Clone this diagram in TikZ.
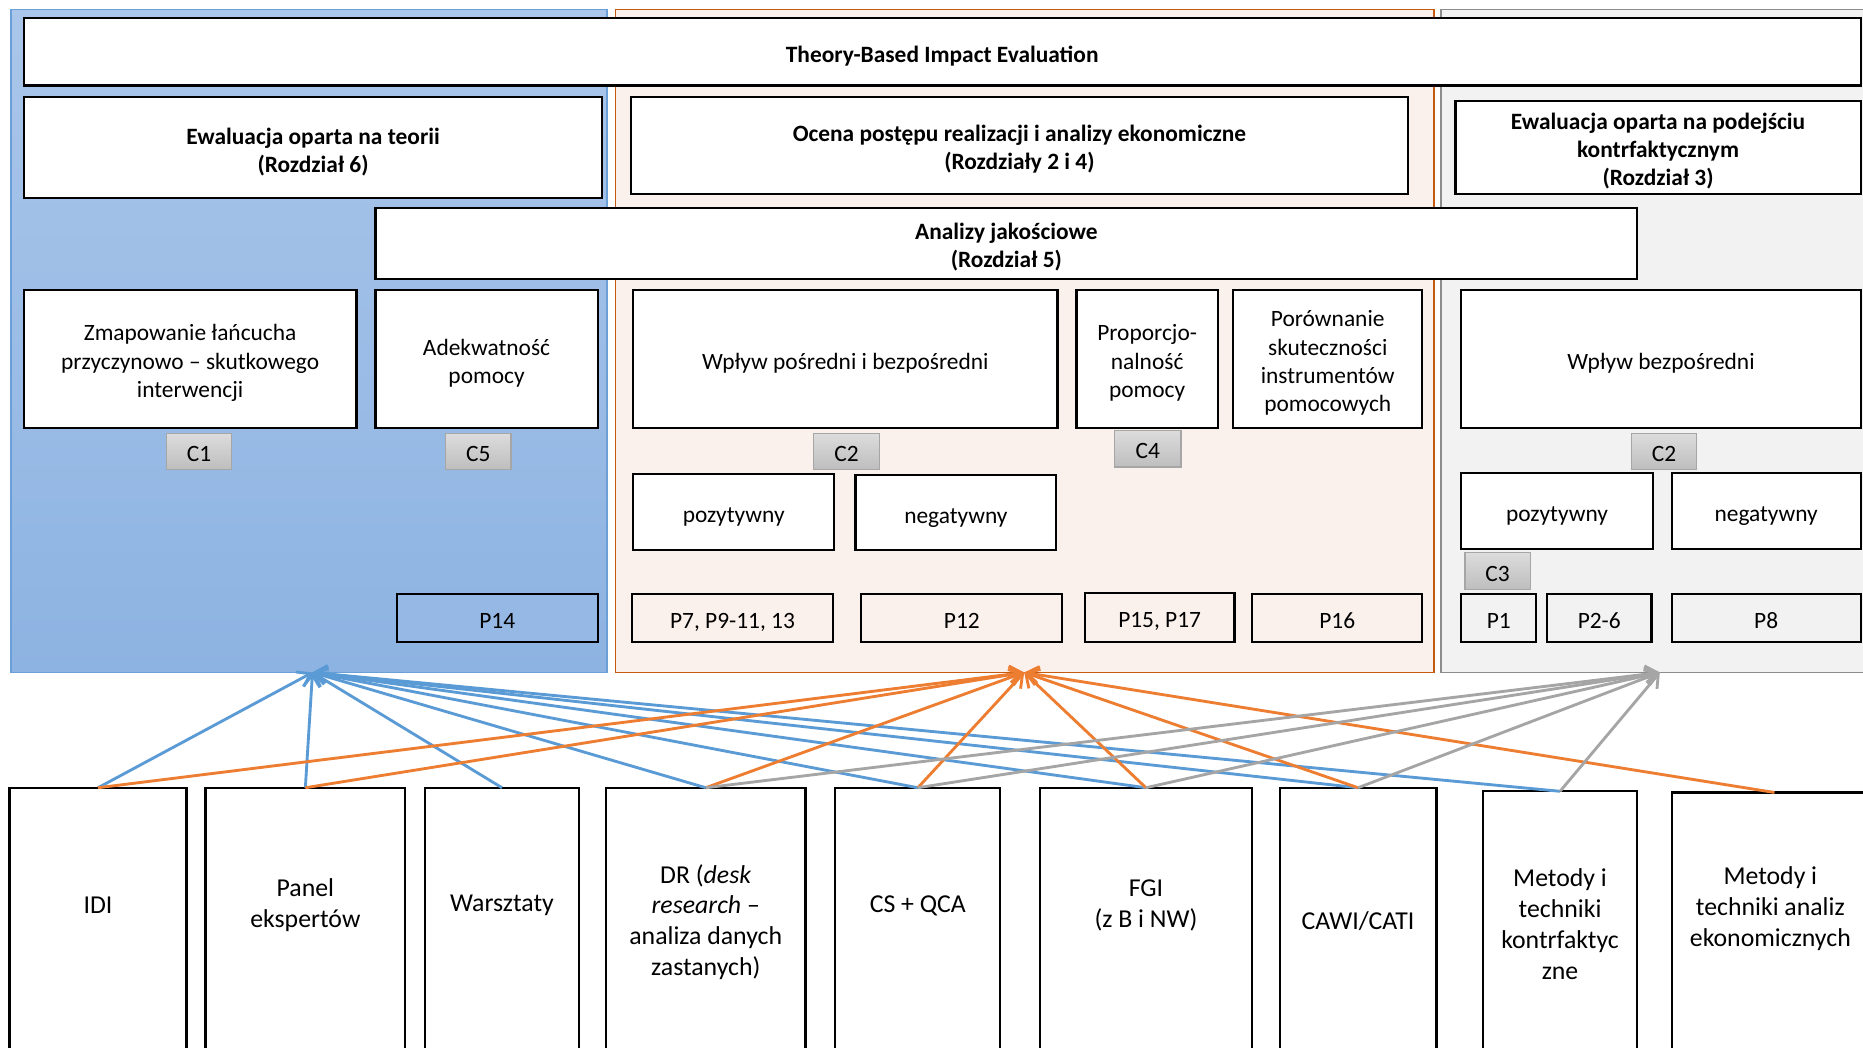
\documentclass[tikz,border=0pt]{standalone}
\usepackage{fontspec}
\setmainfont{Carlito}
\usetikzlibrary{arrows.meta}
\definecolor{blueln}{HTML}{5B9BD5}
\definecolor{orangeln}{HTML}{ED7D31}
\definecolor{grayln}{HTML}{A5A5A5}
\definecolor{bluetop}{HTML}{AAC6EA}
\definecolor{bluebot}{HTML}{8DB3E2}
\definecolor{bluebd}{HTML}{6A9FD8}
\definecolor{orfill}{HTML}{FBF1EC}
\definecolor{orbd}{HTML}{C55A11}
\definecolor{grfill}{HTML}{F2F2F2}
\definecolor{grbd}{HTML}{8C8C8C}
\definecolor{ctop}{HTML}{DCDCDC}
\definecolor{cbot}{HTML}{BEBEBE}
\definecolor{cbd}{HTML}{A6A6A6}
\definecolor{pblue}{HTML}{95B9E4}
\newcommand\ofstrut{\rule[-0.269em]{0pt}{1.42em}}
\newcommand\ofdepth{\rule[-0.269em]{0pt}{0.5em}}
\newcommand\bx[7][]{\node[box,#1,anchor=north west,minimum width={(#5-#3)*1pt},minimum height={(#6-#4)*1pt}] (#2) at (#3,-#4) {\ofstrut#7\ofdepth};}
\begin{document}
\begin{tikzpicture}[x=1pt,y=1pt,
  box/.style={draw=black, line width=1.8pt, fill=white, inner sep=0pt, outer sep=0pt, align=center, font=\fontsize{19.7}{23.7}\selectfont},
  bold/.style={font=\fontsize{19.7}{23.7}\selectfont\bfseries},
  ctag/.style={draw=cbd, line width=1pt, top color=ctop, bottom color=cbot},
  lbl/.style={inner sep=0pt, align=center, font=\fontsize{21.7}{26}\selectfont},
  barrow/.style={draw=blueln, line width=2.4pt, -{Straight Barb[length=10pt,width=14pt]}},
  oarrow/.style={draw=orangeln, line width=2.4pt, -{Straight Barb[length=10pt,width=14pt]}},
  garrow/.style={draw=grayln, line width=2.4pt, -{Straight Barb[length=10pt,width=14pt]}}]
\clip (0,0) rectangle (1568,-882);
\fill[white] (0,0) rectangle (1568,-882);
% panels
\bx[draw=bluebd, line width=1.6pt, top color=bluetop, bottom color=bluebot]{pblue}{9}{8}{511}{566}{}
\bx[draw=orbd, line width=1.6pt, fill=orfill]{porange}{518}{8}{1207}{566}{}
\bx[draw=grbd, line width=1.6pt, fill=grfill]{pgray}{1213}{8}{1580}{566}{}
% title
\bx[bold]{title}{20}{15}{1566}{72}{Theory-Based Impact Evaluation}
% row 2
\bx[bold]{ewt}{20}{82}{507}{167}{Ewaluacja oparta na teorii\\(Rozdział 6)}
\bx[bold]{ocena}{531}{82}{1185}{163}{Ocena postępu realizacji i analizy ekonomiczne\\(Rozdziały 2 i 4)}
\bx[bold]{ewk}{1225}{85}{1566}{163}{Ewaluacja oparta na podejściu\\kontrfaktycznym\\(Rozdział 3)}
\bx[bold]{analizy}{316}{175}{1378}{235}{Analizy jakościowe\\(Rozdział 5)}
% row 3
\bx{zmap}{20}{244}{300}{360}{Zmapowanie łańcucha\\przyczynowo – skutkowego\\interwencji}
\bx{adek}{316}{244}{503}{360}{Adekwatność\\pomocy}
\bx{wpb}{533}{244}{890}{360}{Wpływ pośredni i bezpośredni}
\bx{prop}{906}{244}{1025}{360}{Proporcjo-\\nalność\\pomocy}
\bx{por}{1038}{244}{1197}{360}{Porównanie\\skuteczności\\instrumentów\\pomocowych}
\bx{wb}{1230}{244}{1566}{360}{Wpływ bezpośredni}
% C tags
\bx[ctag]{c1}{140}{365}{195}{395}{C1}
\bx[ctag]{c5}{375}{365}{430}{395}{C5}
\bx[ctag]{c2a}{685}{365}{740}{395}{C2}
\bx[ctag]{c4}{938}{362}{994}{393}{C4}
\bx[ctag]{c2b}{1373}{365}{1428}{395}{C2}
\bx[ctag]{c3}{1233}{465}{1288}{496}{C3}
% pozytywny / negatywny
\bx{poza}{533}{399}{702}{463}{pozytywny}
\bx{nega}{720}{400}{889}{463}{negatywny}
\bx{pozb}{1230}{398}{1391}{462}{pozytywny}
\bx{negb}{1407}{398}{1566}{462}{negatywny}
% P row
\bx[fill=pblue]{p14}{334}{500}{503}{540}{P14}
\bx[fill=orfill]{p7}{532}{500}{701}{540}{P7, P9-11, 13}
\bx[fill=orfill]{p12}{725}{500}{894}{540}{P12}
\bx[fill=orfill]{p15}{913}{499}{1039}{540}{P15, P17}
\bx[fill=orfill]{p16}{1054}{500}{1197}{540}{P16}
\bx[fill=grfill]{p1}{1230}{500}{1293}{540}{P1}
\bx[fill=grfill]{p26}{1302}{500}{1390}{540}{P2-6}
\bx[fill=grfill]{p8}{1407}{500}{1566}{540}{P8}
% bottom boxes
\bx{idi}{8}{663}{157}{900}{}
\bx{panel}{173}{663}{341}{900}{}
\bx{warsz}{358}{663}{487}{900}{}
\bx{dr}{510}{663}{678}{900}{}
\bx{cs}{703}{663}{842}{900}{}
\bx{fgi}{875}{663}{1054}{900}{}
\bx{cawi}{1077}{663}{1209}{900}{}
\bx{mkon}{1248}{666}{1378}{900}{}
\bx{mek}{1407}{667}{1580}{900}{}
\node[lbl] (idi-t) at (82.5,-762) {IDI};
\node[lbl] (panel-t) at (257,-762) {Panel\\ekspertów};
\node[lbl] (warsz-t) at (422.5,-762) {Warsztaty};
\node[lbl] (dr-t) at (594,-776) {DR (\textit{desk}\\\textit{research} –\\analiza danych\\zastanych)};
\node[lbl] (cs-t) at (772.5,-762) {CS + QCA};
\node[lbl] (fgi-t) at (964.5,-762) {FGI\\(z B i NW)};
\node[lbl] (cawi-t) at (1143,-775) {CAWI/CATI};
\node[lbl] (mkon-t) at (1313,-778) {Metody i\\techniki\\kontrfaktyc\\zne};
\node[lbl] (mek-t) at (1490,-765) {Metody i\\techniki analiz\\ekonomicznych};
% targets
\coordinate (bt) at (263,-566);
\coordinate (ot) at (862,-566);
\coordinate (gt) at (1397,-566);
% arrows
\foreach \s in {idi,panel,warsz,dr,cs,fgi,cawi,mkon} \draw[barrow] (\s.north) -- (bt);
\foreach \s in {idi,panel,dr,cs,fgi,cawi,mek} \draw[oarrow] (\s.north) -- (ot);
\foreach \s in {dr,cs,fgi,cawi,mkon} \draw[garrow] (\s.north) -- (gt);
\end{tikzpicture}
\end{document}
